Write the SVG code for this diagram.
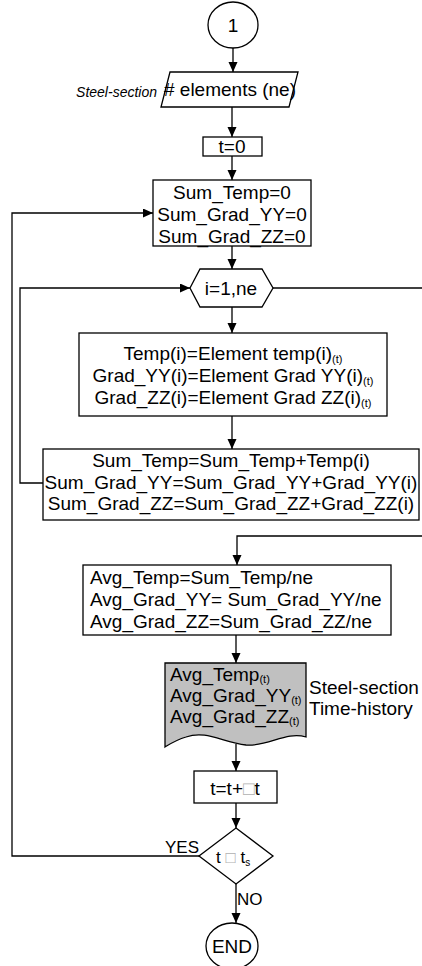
<svg xmlns="http://www.w3.org/2000/svg" width="422" height="966" viewBox="0 0 422 966">
<style>
.s{fill:#fff;stroke:#000;stroke-width:1.3}
.t{font-family:"Liberation Sans",Arial,sans-serif;font-size:19px;fill:#000}
.c{text-anchor:middle}
.sub{font-size:11px;fill:#000}
.tofu{fill:#b0b0b0}
.ln{fill:none;stroke:#000;stroke-width:1.3}
</style>
<defs>
<marker id="a" markerUnits="userSpaceOnUse" markerWidth="10" markerHeight="10" refX="10" refY="4.5" orient="auto">
<path d="M0,0 L10,4.5 L0,9 z" fill="#000"/>
</marker>
</defs>
<rect width="422" height="966" fill="#fff"/>
<g id="connectors">
<line class="ln" x1="233" y1="48" x2="233" y2="72" marker-end="url(#a)"/>
<line class="ln" x1="232" y1="107" x2="232" y2="137" marker-end="url(#a)"/>
<line class="ln" x1="232" y1="156" x2="232" y2="180" marker-end="url(#a)"/>
<line class="ln" x1="232" y1="246" x2="232" y2="269" marker-end="url(#a)"/>
<line class="ln" x1="232" y1="307" x2="232" y2="333" marker-end="url(#a)"/>
<line class="ln" x1="232" y1="416" x2="232" y2="449" marker-end="url(#a)"/>
<polyline class="ln" points="43,483 20,483 20,288 190,288" marker-end="url(#a)"/>
<line class="ln" x1="273" y1="288" x2="422" y2="288"/>
<polyline class="ln" points="422,536 237,536 237,565" marker-end="url(#a)"/>
<line class="ln" x1="236" y1="635" x2="236" y2="663" marker-end="url(#a)"/>
<line class="ln" x1="236" y1="744" x2="236" y2="771" marker-end="url(#a)"/>
<line class="ln" x1="236" y1="803" x2="236" y2="828" marker-end="url(#a)"/>
<polyline class="ln" points="199,856 12,856 12,213 153,213" marker-end="url(#a)"/>
<line class="ln" x1="236" y1="884" x2="236" y2="923" marker-end="url(#a)"/>
<text class="t" x="165" y="853" style="font-size:17px">YES</text>
<text class="t" x="237" y="905" style="font-size:17px">NO</text>
</g>
<g id="start">
<ellipse class="s" cx="233" cy="25" rx="25" ry="23"/>
<text class="t c" x="233" y="32">1</text>
</g>
<g id="input">
<polygon class="s" points="170,72 298,72 289,107 161,107"/>
<text class="t" x="157" y="97" style="font-size:14px;font-style:italic;text-anchor:end">Steel-section</text>
<text class="t c" x="230" y="96"># elements (ne)</text>
</g>
<g id="t0">
<rect class="s" x="203" y="137" width="59" height="19"/>
<text class="t c" x="232" y="153">t=0</text>
</g>
<g id="init">
<rect class="s" x="153" y="180" width="158" height="66"/>
<text class="t c" x="232" y="199">Sum_Temp=0</text>
<text class="t c" x="232" y="221">Sum_Grad_YY=0</text>
<text class="t c" x="232" y="243">Sum_Grad_ZZ=0</text>
</g>
<g id="loop">
<polygon class="s" points="190,288 200,269 262,269 273,288 262,307 200,307"/>
<text class="t c" x="231" y="295">i=1,ne</text>
</g>
<g id="read">
<rect class="s" x="79" y="333" width="308" height="83"/>
<text class="t c" x="233" y="360">Temp(i)=Element temp(i)<tspan class="sub" dy="3">(t)</tspan></text>
<text class="t c" x="233" y="382">Grad_YY(i)=Element Grad YY(i)<tspan class="sub" dy="3">(t)</tspan></text>
<text class="t c" x="233" y="404">Grad_ZZ(i)=Element Grad ZZ(i)<tspan class="sub" dy="3">(t)</tspan></text>
</g>
<g id="sum">
<rect class="s" x="43" y="449" width="376" height="71"/>
<text class="t c" x="231" y="467">Sum_Temp=Sum_Temp+Temp(i)</text>
<text class="t c" x="231" y="489">Sum_Grad_YY=Sum_Grad_YY+Grad_YY(i)</text>
<text class="t c" x="231" y="510">Sum_Grad_ZZ=Sum_Grad_ZZ+Grad_ZZ(i)</text>
</g>
<g id="avg">
<rect class="s" x="83" y="565" width="308" height="70"/>
<text class="t" x="90" y="584">Avg_Temp=Sum_Temp/ne</text>
<text class="t" x="90" y="606">Avg_Grad_YY= Sum_Grad_YY/ne</text>
<text class="t" x="90" y="628">Avg_Grad_ZZ=Sum_Grad_ZZ/ne</text>
</g>
<g id="output">
<path d="M165,663 H306 V737 C286,731 268,747 246,745 C222,742 206,730 186,737 C176,740 170,744 165,747 Z" fill="#c0c0c0" stroke="#000" stroke-width="1.3"/>
<text class="t" x="170" y="681">Avg_Temp<tspan class="sub" dy="2">(t)</tspan></text>
<text class="t" x="170" y="702">Avg_Grad_YY<tspan class="sub" dy="2">(t)</tspan></text>
<text class="t" x="170" y="723">Avg_Grad_ZZ<tspan class="sub" dy="2">(t)</tspan></text>
<text class="t" x="309" y="694">Steel-section</text>
<text class="t" x="309" y="715">Time-history</text>
</g>
<g id="incr">
<rect class="s" x="194" y="771" width="83" height="32"/>
<text class="t c" x="235" y="795">t=t+<tspan class="tofu">□</tspan>t</text>
</g>
<g id="check">
<polygon class="s" points="236,828 273,856 236,884 199,856"/>
<text class="t" x="216" y="863" style="font-size:17px">t <tspan class="tofu">□</tspan> t<tspan class="sub" dy="3" style="font-size:10px">s</tspan></text>
</g>
<g id="end">
<ellipse class="s" cx="232" cy="946" rx="26" ry="23"/>
<text class="t c" x="232" y="953">END</text>
</g>
</svg>
